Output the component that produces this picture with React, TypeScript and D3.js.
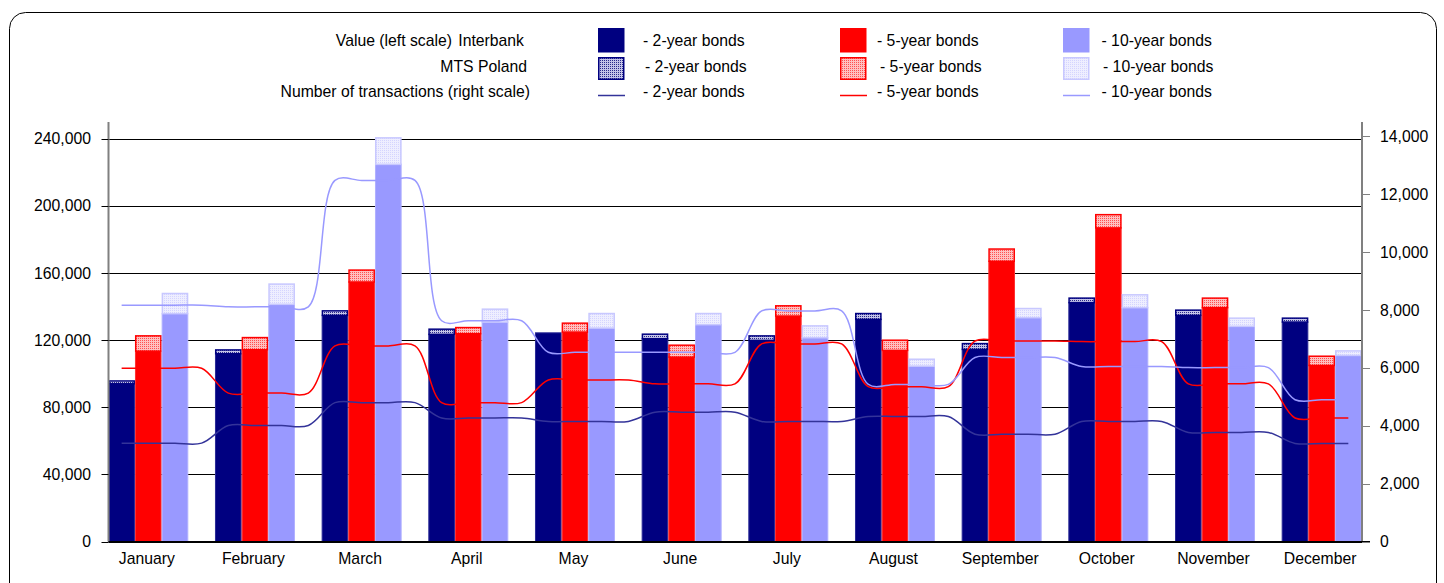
import React from "react";
import * as d3 from "d3";

// Monthly turnover (left scale) and number of transactions (right scale)
const months = [
  "January", "February", "March", "April", "May", "June",
  "July", "August", "September", "October", "November", "December",
];

// Value traded on the interbank market
const interbank2y = [94150, 112050, 134920, 123580, 124360, 121010, 120000, 132530, 114620, 142500, 134920, 130920];
const interbank5y = [113600, 114440, 154800, 124000, 124950, 110030, 134500, 114030, 167160, 187040, 139520, 105070];
const interbank10y = [135930, 141490, 224900, 130920, 127340, 129370, 121600, 104650, 133550, 139520, 128360, 111040];

// Value traded on MTS Poland
const mts2y = [1970, 2570, 2980, 3400, 0, 2990, 2980, 3770, 3770, 2990, 3410, 2630];
const mts5y = [9400, 7530, 7400, 3940, 5610, 7400, 6400, 6380, 7580, 8180, 5970, 5790];
const mts10y = [12310, 12360, 16100, 7980, 8960, 6930, 7350, 4420, 5730, 7940, 5190, 2990];

// Number of transactions
const trades2y = [3400, 4010, 4800, 4270, 4150, 4470, 4150, 4320, 3710, 4150, 3770, 3390];
const trades5y = [5990, 5130, 6760, 4800, 5580, 5450, 6830, 5350, 6930, 6910, 5450, 4270];
const trades10y = [8170, 8110, 12480, 7630, 6540, 6540, 7970, 5430, 6360, 6050, 6010, 4900];

const leftTicks = [0, 40000, 80000, 120000, 160000, 200000, 240000];
const rightTicks = [0, 2000, 4000, 6000, 8000, 10000, 12000, 14000];

const W = 1444;
const H = 583;
const plot = { left: 108.5, right: 1362, top: 122, bottom: 541.5 };
const FONT = "'Liberation Sans', Arial, sans-serif";
const FS = 15.75;

const x0 = d3
  .scaleBand<string>()
  .domain(months)
  .range([108.3, 108.3 + 12 * 106.67])
  .paddingInner(0)
  .paddingOuter(0);

// three bars per month plus an empty slot
const slots = d3
  .scaleBand<string>()
  .domain(["2y", "5y", "10y", "gap"])
  .range([0, x0.bandwidth()]);

const yL = d3.scaleLinear().domain([0, 250000]).range([plot.bottom, plot.top]);
const yR = d3.scaleLinear().domain([0, 14500]).range([plot.bottom, plot.top]);

const fmt = d3.format(",");

type Series = {
  key: string;
  ib: number[];
  mts: number[];
  trades: number[];
  fill: string;
  stroke: string;
  pattern: string;
  mtsStroke: string;
  line: string;
  label: string;
};

const series: Series[] = [
  {
    key: "2y", ib: interbank2y, mts: mts2y, trades: trades2y,
    fill: "#000080", stroke: "#2a2a96", pattern: "url(#pat2)", mtsStroke: "#000080",
    line: "#333399", label: "- 2-year bonds",
  },
  {
    key: "5y", ib: interbank5y, mts: mts5y, trades: trades5y,
    fill: "#FF0000", stroke: "#ff3030", pattern: "url(#pat5)", mtsStroke: "#ff0000",
    line: "#FF0000", label: "- 5-year bonds",
  },
  {
    key: "10y", ib: interbank10y, mts: mts10y, trades: trades10y,
    fill: "#9999FF", stroke: "#b0b0ff", pattern: "url(#pat10)", mtsStroke: "#c8c8ff",
    line: "#9999FF", label: "- 10-year bonds",
  },
];

const lineGen = d3
  .line<[number, number]>()
  .x((d) => d[0])
  .y((d) => d[1])
  .curve(d3.curveCatmullRom.alpha(0.5));

function linePoints(values: number[]): [number, number][] {
  const pts: [number, number][] = [];
  months.forEach((m, i) => {
    slots.domain().forEach((s) => {
      const x = (x0(m) as number) + (slots(s) as number) + slots.bandwidth() / 2;
      if (x <= plot.right) pts.push([x, yR(values[i])]);
    });
  });
  return pts;
}

const crisp = (v: number) => Math.round(v) + 0.5;

export default function App() {
  const bw = slots.bandwidth();
  const legendCols = [
    { sw: 598, text: [643, 645, 643] },
    { sw: 840, text: [877, 880, 877] },
    { sw: 1063, text: [1101.5, 1103, 1101.5] },
  ];
  const rowY = [45.5, 71.5, 97];

  return (
    <div style={{ position: "absolute", left: 0, top: 0 }}>
      <svg width={W} height={H} style={{ display: "block", background: "#fff" }}>
        <defs>
          <pattern id="pat2" width="2" height="2" patternUnits="userSpaceOnUse">
            <rect width="2" height="2" fill="#c4c4e8" />
            <rect width="1" height="1" fill="#2a2a8a" />
          </pattern>
          <pattern id="pat5" width="2" height="2" patternUnits="userSpaceOnUse">
            <rect width="2" height="2" fill="#ffc0c0" />
            <rect width="1" height="1" fill="#ff5050" />
          </pattern>
          <pattern id="pat10" width="2" height="2" patternUnits="userSpaceOnUse">
            <rect width="2" height="2" fill="#eeeeff" />
            <rect width="1" height="1" fill="#d4d4ff" />
          </pattern>
        </defs>

        {/* outer frame */}
        <rect x={9.5} y={12.5} width={1427} height={620} rx={16} ry={16} fill="none" stroke="#000" strokeWidth={1} />

        {/* horizontal gridlines */}
        {leftTicks.map((t) => (
          <line key={"g" + t} x1={plot.left} x2={plot.right} y1={crisp(yL(t))} y2={crisp(yL(t))} stroke="#000" strokeWidth={1} />
        ))}

        {/* bars: interbank value with MTS Poland stacked on top */}
        {series.map((s) =>
          months.map((m, i) => {
            const x = (x0(m) as number) + (slots(s.key) as number);
            const yIb = yL(s.ib[i]);
            const yTot = yL(s.ib[i] + s.mts[i]);
            return (
              <g key={s.key + m}>
                <rect x={x + 0.5} y={yIb} width={bw - 1} height={plot.bottom - yIb} fill={s.fill} stroke={s.stroke} strokeWidth={1} />
                {s.mts[i] > 0 && (
                  <rect x={x + 0.75} y={yTot + 0.75} width={bw - 1.5} height={Math.max(yIb - yTot - 0.5, 0.5)} fill={s.pattern} stroke={s.mtsStroke} strokeWidth={1.5} />
                )}
              </g>
            );
          })
        )}

        {/* transaction lines */}
        {series.map((s) => (
          <path key={"l" + s.key} d={lineGen(linePoints(s.trades)) || ""} fill="none" stroke={s.line} strokeWidth={1.5} />
        ))}

        {/* axes */}
        <line x1={plot.left} x2={plot.left} y1={plot.top} y2={plot.bottom} stroke="#808080" strokeWidth={2} />
        <line x1={plot.right} x2={plot.right} y1={plot.top} y2={plot.bottom} stroke="#808080" strokeWidth={2} />
        <line x1={plot.left} x2={plot.right + 8} y1={plot.bottom} y2={plot.bottom} stroke="#000" strokeWidth={1} />

        {leftTicks.map((t) => (
          <g key={"lt" + t}>
            <line x1={plot.left - 7} x2={plot.left} y1={crisp(yL(t))} y2={crisp(yL(t))} stroke="#000" />
            <text x={91} y={yL(t) + 5.5} textAnchor="end" fontFamily={FONT} fontSize={FS} fill="#000">
              {fmt(t)}
            </text>
          </g>
        ))}
        {rightTicks.map((t) => (
          <g key={"rt" + t}>
            <line x1={plot.right} x2={plot.right + 8} y1={crisp(yR(t))} y2={crisp(yR(t))} stroke="#808080" />
            <text x={1380} y={yR(t) + 5.5} textAnchor="start" fontFamily={FONT} fontSize={FS} fill="#000">
              {fmt(t)}
            </text>
          </g>
        ))}
        {months.map((m) => (
          <text key={"m" + m} x={(x0(m) as number) + (slots.bandwidth() * 3) / 2 - 1.5} y={564} textAnchor="middle" fontFamily={FONT} fontSize={FS} fill="#000">
            {m}
          </text>
        ))}

        {/* legend */}
        <g fontFamily={FONT} fontSize={FS} fill="#000">
          <text x={452} y={rowY[0]} textAnchor="end">Value (left scale)</text>
          <text x={524} y={rowY[0]} textAnchor="end">Interbank</text>
          <text x={527} y={rowY[1]} textAnchor="end">MTS Poland</text>
          <text x={530} y={rowY[2]} textAnchor="end">Number of transactions (right scale)</text>
          {series.map((s, k) => {
            const c = legendCols[k];
            return (
              <g key={"lg" + s.key}>
                <rect x={c.sw} y={28} width={26.5} height={24.5} fill={s.fill} />
                <rect x={c.sw + 0.75} y={57.75} width={25} height={21.5} fill={s.pattern} stroke={s.mtsStroke} strokeWidth={1.5} />
                <line x1={c.sw} x2={c.sw + 27} y1={95.5} y2={95.5} stroke={s.line} strokeWidth={1.5} />
                <text x={c.text[0]} y={rowY[0]}>{s.label}</text>
                <text x={c.text[1]} y={rowY[1]}>{s.label}</text>
                <text x={c.text[2]} y={rowY[2]}>{s.label}</text>
              </g>
            );
          })}
        </g>
      </svg>
    </div>
  );
}
